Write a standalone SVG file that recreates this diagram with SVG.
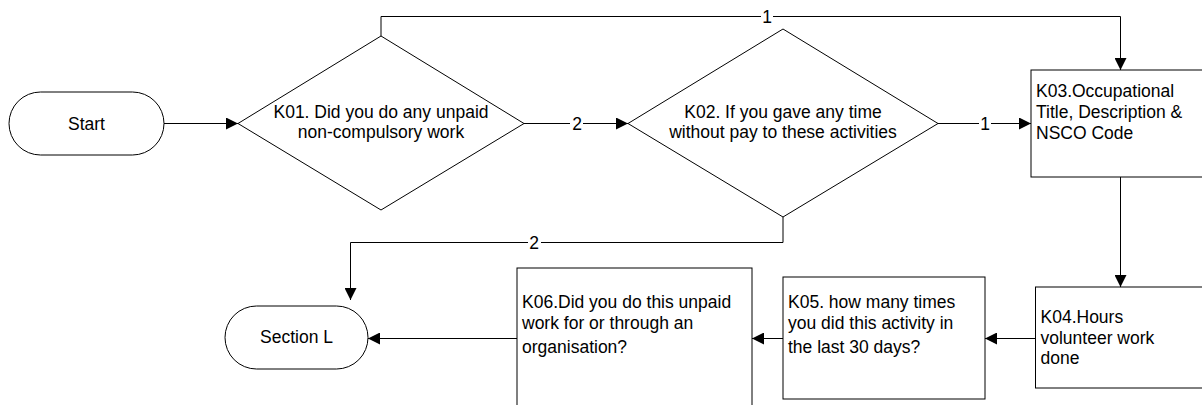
<svg xmlns="http://www.w3.org/2000/svg" width="1202" height="405" viewBox="0 0 1202 405">
<defs>
<marker id="arr" markerUnits="userSpaceOnUse" markerWidth="12" markerHeight="12" refX="12" refY="6" orient="auto">
<path d="M0,0 L12,6 L0,12 z" fill="#000"/>
</marker>
<style>
.shape{fill:#fff;stroke:#000;stroke-width:1}
.t{font-family:"Liberation Sans",Arial,sans-serif;font-size:17.5px;fill:#000}
.c{text-anchor:middle}
.edge{fill:none;stroke:#000;stroke-width:1;marker-end:url(#arr)}
.line{fill:none;stroke:#000;stroke-width:1}
.lbg{fill:#fff}
</style>
</defs>
<rect width="1202" height="405" fill="#fff"/>
<g id="connectors">
<path class="edge" d="M164,123.5 H238"/>
<path class="edge" d="M524,123.5 H628"/>
<path class="edge" d="M938,123.5 H1031"/>
<path class="edge" d="M381,36 V16.5 H1120.5 V70"/>
<path class="edge" d="M1120.5,177 V287"/>
<path class="edge" d="M1035,338.5 H985"/>
<path class="edge" d="M783,338.5 H752"/>
<path class="edge" d="M517,338.5 H368"/>
<path class="edge" d="M783,217 V242.5 H350.5 V300"/>
<rect class="lbg" x="761" y="8" width="12" height="17"/>
<text class="t c" x="767" y="22.5">1</text>
<rect class="lbg" x="570" y="115" width="13" height="17"/>
<text class="t c" x="577" y="130">2</text>
<rect class="lbg" x="979" y="115" width="12" height="17"/>
<text class="t c" x="985" y="130">1</text>
<rect class="lbg" x="528" y="234" width="13" height="17"/>
<text class="t c" x="534" y="249">2</text>
</g>
<g id="start">
<rect class="shape" x="9" y="92" width="155" height="63" rx="31.5"/>
<text class="t c" x="86.5" y="129.5">Start</text>
</g>
<g id="k01">
<polygon class="shape" points="238,123.5 381,36 524,123.5 381,210"/>
<text class="t c" x="381" y="118">K01. Did you do any unpaid</text>
<text class="t c" x="381" y="138">non-compulsory work</text>
</g>
<g id="k02">
<polygon class="shape" points="628,123.5 783,29 938,123.5 783,217"/>
<text class="t c" x="783" y="118">K02. If you gave any time</text>
<text class="t c" x="783" y="138">without pay to these activities</text>
</g>
<g id="k03">
<rect class="shape" x="1031" y="70" width="180" height="107"/>
<text class="t" x="1036" y="97">K03.Occupational</text>
<text class="t" x="1036" y="117.5">Title, Description &amp;</text>
<text class="t" x="1036" y="139">NSCO Code</text>
</g>
<g id="k04">
<rect class="shape" x="1035.5" y="287" width="180" height="101"/>
<text class="t" x="1040.5" y="322.5">K04.Hours</text>
<text class="t" x="1040.5" y="343.5">volunteer work</text>
<text class="t" x="1040.5" y="364">done</text>
</g>
<g id="k05">
<rect class="shape" x="783" y="277" width="202" height="122"/>
<text class="t" x="788" y="308">K05. how many times</text>
<text class="t" x="788" y="329">you did this activity in</text>
<text class="t" x="788" y="353">the last 30 days?</text>
</g>
<g id="k06">
<rect class="shape" x="517" y="268" width="235" height="150"/>
<text class="t" x="522" y="308">K06.Did you do this unpaid</text>
<text class="t" x="522" y="329">work for or through an</text>
<text class="t" x="522" y="353">organisation?</text>
</g>
<g id="sectionL">
<rect class="shape" x="225" y="306" width="143" height="63" rx="31.5"/>
<text class="t c" x="296.5" y="343">Section L</text>
</g>
</svg>
